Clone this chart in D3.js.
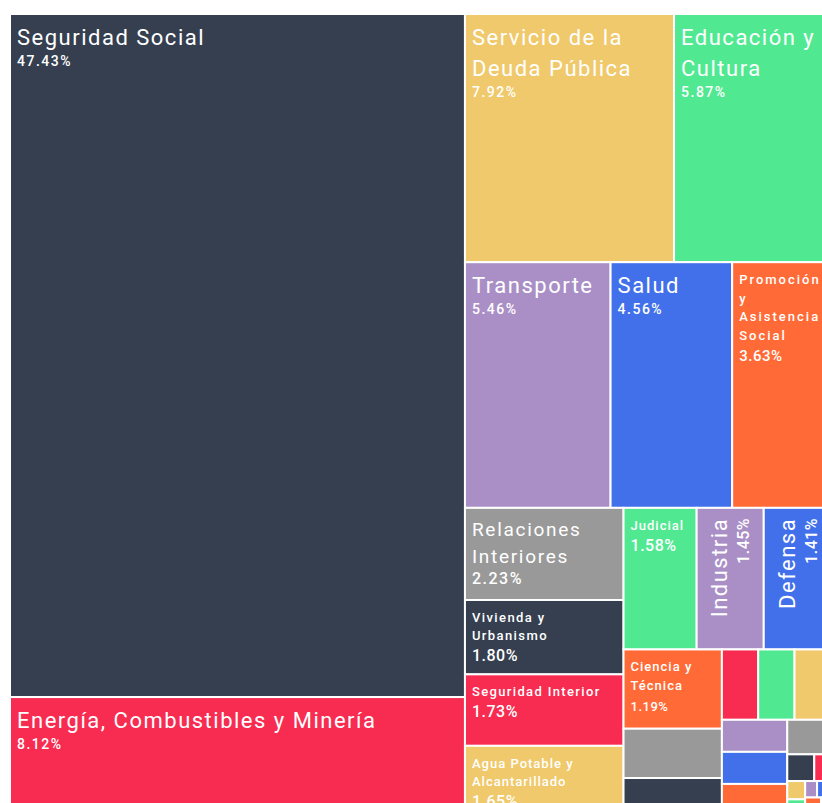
<!DOCTYPE html>
<html>
<head>
<meta charset="utf-8">
<script src="https://cdn.jsdelivr.net/npm/d3@7"></script>
<style>
  body { margin: 0; background: #fff; }
  svg { display: block; }
  text { font-family: Roboto, "Noto Sans", sans-serif; fill: #fff; }
</style>
</head>
<body>
<div id="chart"></div>
<script>
var w = 822;
var h = 803;

// finalidad / función del gasto, en % del total (orden original de los datos)
var categories = [
  "Seguridad Social", "Energía, Combustibles y Minería", "Servicio de la Deuda Pública",
  "Educación y Cultura", "Transporte", "Salud", "Promoción y Asistencia Social",
  "Relaciones Interiores", "Vivienda y Urbanismo", "Seguridad Interior",
  "Agua Potable y Alcantarillado", "Judicial", "Industria", "Defensa", "Ciencia y Técnica",
  "Dirección Superior Ejecutiva", "Relaciones Exteriores", "Trabajo", "Administración Fiscal",
  "Agricultura", "Legislativa", "Sistema Penal", "Comunicaciones",
  "Comercio, Turismo y Otros Servicios", "Inteligencia", "Control de la Gestión Pública",
  "Ecología y Medio Ambiente", "Información y Estadística Básicas", "Seguros y Finanzas",
  "Otros Servicios Económicos", "Deuda Intergubernamental", "Servicios Urbanos",
  "Turismo", "Otros", "Sin Discriminar"
];
var values = [
  47.43, 8.12, 7.92, 5.87, 5.46, 4.56, 3.63, 2.23, 1.80, 1.73, 1.65, 1.58, 1.45, 1.41, 1.19,
  0.74, 0.54, 0.39, 0.37, 0.39, 0.32, 0.32, 0.30, 0.22,
  0.11, 0.06, 0.05, 0.04, 0.03, 0.03, 0.02, 0.02, 0.01, 0.01
];

var palette = ["#353f50", "#f82b51", "#efc96b", "#50e991", "#aa8fc6", "#4170ea", "#ff6a36", "#999999"];

// labels drawn on the reference: name size, percent size, rotation, letter spacing
var labelStyle = {
  "Seguridad Social": { size: 22, pct: 14, ls: 1.5 },
  "Energía, Combustibles y Minería": { size: 22, pct: 14, ls: 1.5 },
  "Servicio de la Deuda Pública": { size: 22, pct: 14, ls: 1.5 },
  "Educación y Cultura": { size: 22, pct: 14, ls: 1.5 },
  "Transporte": { size: 22, pct: 14, ls: 1.5 },
  "Salud": { size: 22, pct: 14, ls: 1.5 },
  "Promoción y Asistencia Social": { size: 13, pct: 15, ls: 2, bold: true },
  "Relaciones Interiores": { size: 19, pct: 16, ls: 1.7 },
  "Vivienda y Urbanismo": { size: 13, pct: 16, ls: 1.4, bold: true },
  "Seguridad Interior": { size: 13, pct: 16, ls: 1.35, bold: true },
  "Agua Potable y Alcantarillado": { size: 13, pct: 16, ls: 1, bold: true },
  "Judicial": { size: 13, pct: 16, ls: 1, bold: true },
  "Industria": { size: 22, pct: 16, ls: 1.5, rot: true },
  "Defensa": { size: 22, pct: 16, ls: 1.5, rot: true },
  "Ciencia y Técnica": { size: 13, pct: 13, ls: 1, bold: true }
};

var data = {
  children: values.map(function(v, i) { return { name: categories[i], value: v, idx: i }; })
};

var root = d3.hierarchy(data)
  .sum(function(d) { return d.value || 0; })
  .sort(function(a, b) { return b.value - a.value; });

d3.treemap()
  .tile(d3.treemapSquarify)
  .size([819, 800])
  .round(false)(root);

var total = root.value;

var svg = d3.select("#chart")
  .append("svg")
  .attr("width", w)
  .attr("height", h);

var g = svg.append("g").attr("transform", "translate(10,14)");

var cell = g.selectAll("g.cell")
  .data(root.leaves())
  .enter()
  .append("g")
  .attr("class", "cell")
  .attr("transform", function(d) { return "translate(" + d.x0 + "," + d.y0 + ")"; });

cell.append("rect")
  .attr("width", function(d) { return d.x1 - d.x0; })
  .attr("height", function(d) { return d.y1 - d.y0; })
  .attr("fill", function(d) { return palette[d.data.idx % palette.length]; })
  .attr("stroke", "#fff")
  .attr("stroke-width", 2);

cell.each(function(d) {
  var st = labelStyle[d.data.name];
  if (!st) return;
  var sel = d3.select(this);
  var cw = d.x1 - d.x0;
  var pctText = (d.value / total * 100).toFixed(2) + "%";
  var pctLs = st.size >= 19 && !st.rot ? 1.5 : 0.5;

  if (st.rot) {
    var lab = sel.append("g").attr("transform", "rotate(-90)");
    lab.append("text")
      .attr("x", -10).attr("y", 11 + st.size * 0.9)
      .attr("text-anchor", "end")
      .attr("font-size", st.size)
      .attr("letter-spacing", st.ls)
      .text(d.data.name);
    lab.append("text")
      .attr("x", -10).attr("y", 11 + st.size * 0.9 + 22)
      .attr("text-anchor", "end")
      .attr("font-size", st.pct)
      .attr("font-weight", 500)
      .attr("letter-spacing", 0.5)
      .text(pctText);
    return;
  }

  var maxW = cw - 14;
  var lh = st.size * 1.42;
  var words = d.data.name.split(" ");
  var y = 9 + st.size;
  var t = sel.append("text")
    .attr("x", 7).attr("y", y)
    .attr("font-size", st.size)
    .attr("font-weight", st.bold ? 500 : 400)
    .attr("letter-spacing", st.ls || 0);
  var line = [];
  var tspan = t.append("tspan").attr("x", 7).attr("y", y);
  words.forEach(function(word) {
    line.push(word);
    tspan.text(line.join(" "));
    if (tspan.node().getComputedTextLength() > maxW && line.length > 1) {
      line.pop();
      tspan.text(line.join(" "));
      line = [word];
      y += lh;
      tspan = t.append("tspan").attr("x", 7).attr("y", y).text(word);
    }
  });

  sel.append("text")
    .attr("x", 7).attr("y", y + 21)
    .attr("font-size", st.pct)
    .attr("font-weight", 500)
    .attr("letter-spacing", pctLs)
    .text(pctText);
});
</script>
</body>
</html>
